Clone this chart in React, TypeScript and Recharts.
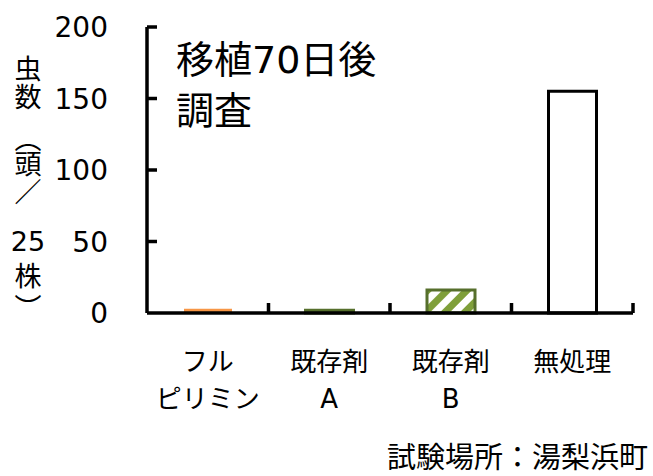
import React from "react"
import { Bar, BarChart, Cell, ReferenceLine, XAxis, YAxis } from "recharts"

const categories = ["フル\nピリミン", "既存剤\nA", "既存剤\nB", "無処理"]
const counts = [3, 2, 16, 155]
const yTicks = [0, 50, 100, 150, 200]
const yLabel = ["虫", "数", "︵", "頭", "／", "25", "株", "︶"]

const W = 653
const H = 476
const margin = { top: 27, right: 20, bottom: 133, left: 0 }
const yAxisWidth = 147
const band = (W - margin.left - margin.right - yAxisWidth) / categories.length
const font = "'DejaVu Sans', 'Noto Sans CJK JP', sans-serif"

const fills = ["#f79646", "#566f2c", "url(#hatch)", "#ffffff"]
const strokes = ["#f79646", "#566f2c", "#566f2c", "#000000"]

const data = categories.map((name, i) => ({ name, count: counts[i] }))

// tick origin is 8px below the axis (default tickSize 6 + tickMargin 2)
function XTick(props: any) {
    const x = Number(props.x)
    const y = Number(props.y) - 8
    const lines = String(props.payload.value).split("\n")
    return (
        <g>
            <rect x={x + band / 2 - 1.75} y={y - 10} width={3.5} height={10} fill="#000" />
            {lines.map((l, i) => (
                <text key={i} x={x} y={y + 58 + i * 37} textAnchor="middle" fontSize={26} fill="#000" fontFamily={font}>
                    {l}
                </text>
            ))}
        </g>
    )
}

function YTick(props: any) {
    const x = Number(props.x)
    const y = Number(props.y)
    return (
        <text x={x - 31} y={y + 10} textAnchor="end" fontSize={28} fill="#000" fontFamily={font}>
            {props.payload.value}
        </text>
    )
}

// short inward tick on the y axis
const yTickMark = (p: any) => {
    const x = Math.min(Number(p.x1), Number(p.x2))
    return <line x1={x} x2={x + 10} y1={p.y1} y2={p.y1} stroke="#000" strokeWidth={3.5} />
}

export default function App() {
    return (
        <div style={{ position: "absolute", left: 0, top: 0, width: W, height: H, background: "#fff", fontFamily: font }}>
            <BarChart width={W} height={H} data={data} margin={margin}>
                <defs>
                    <pattern id="hatch" width="14" height="14" patternUnits="userSpaceOnUse" patternTransform="rotate(45)">
                        <rect width="14" height="14" fill="#ffffff" />
                        <rect width="7" height="14" fill="#7f9f3a" />
                    </pattern>
                </defs>
                <XAxis
                    dataKey="name"
                    height={30}
                    axisLine={{ stroke: "#000", strokeWidth: 3.5 }}
                    tickLine={false}
                    interval={0}
                    tick={<XTick />}
                />
                <YAxis
                    width={yAxisWidth}
                    domain={[0, 200]}
                    ticks={yTicks}
                    interval={0}
                    axisLine={{ stroke: "#000", strokeWidth: 3.5 }}
                    tickLine={false}
                    tick={<YTick />}
                />
                <Bar dataKey="count" barSize={48} isAnimationActive={false}>
                    {data.map((d, i) => (
                        <Cell key={d.name} fill={fills[i]} stroke={strokes[i]} strokeWidth={i === 0 ? 0 : 3} />
                    ))}
                </Bar>
                {yTicks.slice(1).map((v) => (
                    <ReferenceLine key={v} y={v} ifOverflow="visible" shape={yTickMark} />
                ))}
            </BarChart>
            {yLabel.map((c, i) => {
                const ys = [70, 98, 140, 165, 193, 242, 277, 309]
                return (
                    <div key={i} style={{ position: "absolute", left: 0, width: 56, top: ys[i] - 13, height: 26, lineHeight: "26px", textAlign: "center", fontSize: 27, fontFamily: font }}>
                        {c}
                    </div>
                )
            })}
            <div style={{ position: "absolute", left: 176, top: 35, fontSize: 38, lineHeight: "51px", whiteSpace: "nowrap" }}>
                移植70日後<br />調査
            </div>
            <div style={{ position: "absolute", right: 5, top: 441, fontSize: 29, lineHeight: "34px", whiteSpace: "nowrap" }}>
                試験場所：湯梨浜町
            </div>
        </div>
    )
}
